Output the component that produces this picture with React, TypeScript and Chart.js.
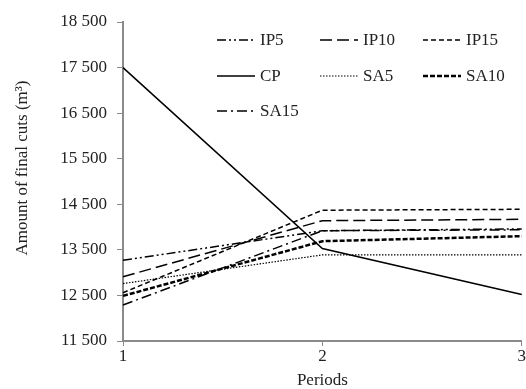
import React, { useEffect, useRef } from "react";
import { Chart, registerables } from "chart.js";
Chart.register(...registerables);

const periods = ["1", "2", "3"];
const seriesNames = ["IP5", "IP10", "IP15", "CP", "SA5", "SA10", "SA15"];
const IP5 = [13270, 13920, 13960];
const IP10 = [12910, 14140, 14170];
const IP15 = [12560, 14370, 14390];
const CP = [17500, 13530, 12520];
const SA5 = [12760, 13390, 13390];
const SA10 = [12490, 13690, 13800];
const SA15 = [12290, 13920, 13940];
const yMin = 11500;
const yMax = 18500;
const yStep = 1000;
const yTitle = "Amount of final cuts (m³)";
const xTitle = "Periods";

const seriesValues = [IP5, IP10, IP15, CP, SA5, SA10, SA15];
const dashes: number[][] = [
  [9, 3, 2, 3, 2, 3],
  [12, 5],
  [5, 3],
  [],
  [1.5, 1.5],
  [5, 2],
  [10, 4, 2, 4],
];
const widths = [1.5, 1.5, 1.5, 1.5, 1.2, 2.5, 1.5];

const FONT = "'Liberation Serif', 'Times New Roman', serif";
const AXIS = "#8a8a8a";
const TEXT = "#222";

const fmt = (v: number) => {
  const s = String(Math.round(v));
  return s.length > 3 ? s.slice(0, s.length - 3) + " " + s.slice(-3) : s;
};

const legendPlugin = {
  id: "customLegend",
  afterDraw(chart: any) {
    const ctx = chart.ctx;
    const cols = [217, 320, 423];
    const rows = [40, 76, 111];
    ctx.save();
    ctx.font = `17px ${FONT}`;
    ctx.textBaseline = "middle";
    ctx.textAlign = "left";
    chart.data.datasets.forEach((ds: any, i: number) => {
      const x = cols[i % 3];
      const y = rows[Math.floor(i / 3)];
      ctx.beginPath();
      ctx.strokeStyle = ds.borderColor;
      ctx.lineWidth = ds.borderWidth;
      ctx.setLineDash(ds.borderDash || []);
      ctx.moveTo(x, y);
      ctx.lineTo(x + 38, y);
      ctx.stroke();
      ctx.setLineDash([]);
      ctx.fillStyle = TEXT;
      ctx.fillText(ds.label, x + 43, y + 1);
    });
    ctx.restore();
  },
};

const yTitlePlugin = {
  id: "yTitle",
  afterDraw(chart: any) {
    const ctx = chart.ctx;
    ctx.save();
    ctx.translate(23, 168);
    ctx.rotate(-Math.PI / 2);
    ctx.font = `17px ${FONT}`;
    ctx.fillStyle = TEXT;
    ctx.textAlign = "center";
    ctx.textBaseline = "middle";
    ctx.fillText(yTitle, 0, 0);
    ctx.restore();
  },
};

export default function App() {
  const ref = useRef<HTMLCanvasElement>(null);
  useEffect(() => {
    document.body.style.margin = "0";
    if (!ref.current) return;
    const chart = new Chart(ref.current, {
      type: "line",
      data: {
        labels: periods,
        datasets: seriesNames.map((name, i) => ({
          label: name,
          data: seriesValues[i],
          borderColor: "#000",
          borderWidth: widths[i],
          borderDash: dashes[i],
          pointRadius: 0,
          fill: false,
          tension: 0,
        })),
      },
      options: {
        animation: false,
        responsive: false,
        maintainAspectRatio: false,
        layout: { padding: { top: 22, right: 4, left: 0, bottom: 0 } },
        plugins: { legend: { display: false }, tooltip: { enabled: false } },
        scales: {
          x: {
            type: "category",
            offset: false,
            afterFit: (s: any) => {
              s.height = 48;
            },
            grid: { display: true, drawOnChartArea: false, drawTicks: true, tickLength: 5, color: AXIS },
            border: { display: true, color: AXIS, width: 2 },
            ticks: { font: { family: FONT, size: 17 }, color: TEXT, padding: 0, maxRotation: 0 },
            title: {
              display: true,
              text: xTitle,
              font: { family: FONT, size: 17, lineHeight: 1.0 },
              color: TEXT,
              padding: { top: 0, bottom: 0 },
            },
          },
          y: {
            min: yMin,
            max: yMax,
            afterFit: (s: any) => {
              s.width = 123;
            },
            grid: { display: true, drawOnChartArea: false, drawTicks: true, tickLength: 6, color: AXIS },
            border: { display: true, color: AXIS, width: 2 },
            ticks: {
              stepSize: yStep,
              font: { family: FONT, size: 17 },
              color: TEXT,
              padding: 10,
              callback: (v: any) => fmt(Number(v)),
            },
          },
        },
      },
      plugins: [legendPlugin, yTitlePlugin],
    });
    return () => chart.destroy();
  }, []);
  return (
    <div style={{ width: 526, height: 389 }}>
      <canvas ref={ref} width={526} height={389} style={{ display: "block", width: 526, height: 389 }} />
    </div>
  );
}
